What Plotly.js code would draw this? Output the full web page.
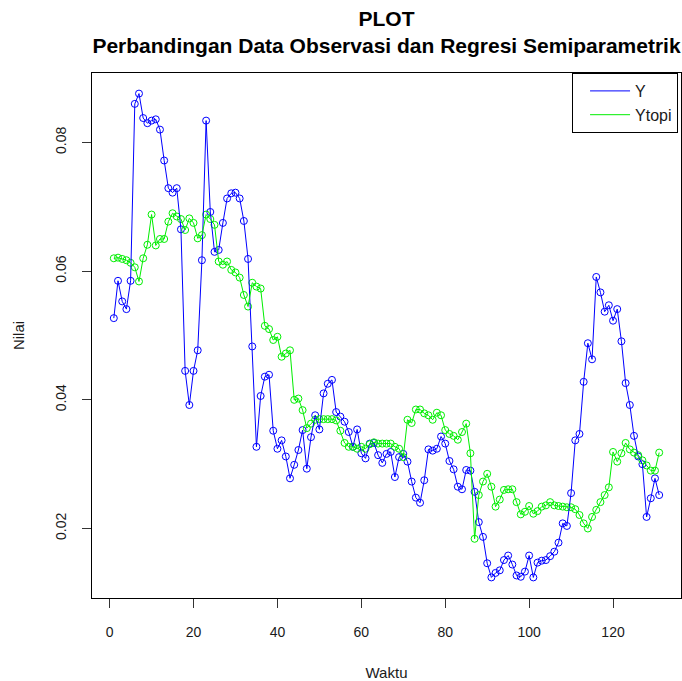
<!DOCTYPE html>
<html>
<head>
<meta charset="utf-8">
<script src="https://cdn.plot.ly/plotly-3.0.1.min.js"></script>
<style>html,body{margin:0;padding:0;background:#fff;}#chart{width:682px;height:681px;}</style>
</head>
<body>
<div id="chart"></div>
<script>
var waktu = [];
for (var i = 1; i <= 131; i++) waktu.push(i);

var Y = [
0.0527,0.0585,0.0553,0.0541,0.0585,0.0860,0.0876,0.0838,0.0830,0.0834,
0.0836,0.0820,0.0772,0.0729,0.0722,0.0729,0.0665,0.0445,0.0392,0.0445,
0.0477,0.0617,0.0834,0.0692,0.0630,0.0633,0.0675,0.0713,0.0721,0.0722,
0.0713,0.0678,0.0619,0.0483,0.0327,0.0406,0.0436,0.0439,0.0352,0.0324,
0.0337,0.0312,0.0278,0.0299,0.0322,0.0353,0.0293,0.0342,0.0376,0.0354,
0.0410,0.0425,0.0431,0.0381,0.0374,0.0366,0.0350,0.0327,0.0354,0.0317,
0.0309,0.0332,0.0333,0.0314,0.0302,0.0316,0.0319,0.0280,0.0311,0.0316,
0.0304,0.0273,0.0248,0.0240,0.0275,0.0323,0.0321,0.0324,0.0343,0.0332,
0.0305,0.0292,0.0265,0.0261,0.0291,0.0290,0.0257,0.0210,0.0187,0.0146,
0.0124,0.0131,0.0135,0.0151,0.0158,0.0144,0.0127,0.0125,0.0133,0.0158,
0.0124,0.0147,0.0150,0.0151,0.0157,0.0164,0.0178,0.0208,0.0204,0.0255,
0.0337,0.0347,0.0428,0.0488,0.0463,0.0591,0.0567,0.0537,0.0547,0.0523,
0.0541,0.0491,0.0426,0.0392,0.0344,0.0312,0.0300,0.0218,0.0247,0.0278,
0.0252
];

var Ytopi = [
0.0620,0.0621,0.0619,0.0617,0.0613,0.0606,0.0584,0.0620,0.0641,0.0688,
0.0640,0.0650,0.0650,0.0677,0.0690,0.0685,0.0681,0.0664,0.0682,0.0675,
0.0651,0.0656,0.0688,0.0681,0.0672,0.0615,0.0610,0.0615,0.0602,0.0598,
0.0590,0.0563,0.0545,0.0582,0.0576,0.0573,0.0515,0.0510,0.0493,0.0498,
0.0467,0.0472,0.0477,0.0400,0.0402,0.0384,0.0356,0.0363,0.0369,0.0370,
0.0370,0.0370,0.0370,0.0368,0.0352,0.0333,0.0327,0.0327,0.0324,0.0327,
0.0324,0.0331,0.0334,0.0332,0.0332,0.0332,0.0332,0.0327,0.0324,0.0311,
0.0369,0.0364,0.0385,0.0385,0.0379,0.0376,0.0369,0.0380,0.0376,0.0353,
0.0347,0.0344,0.0338,0.0350,0.0363,0.0317,0.0184,0.0252,0.0273,0.0285,
0.0265,0.0234,0.0245,0.0260,0.0261,0.0261,0.0241,0.0222,0.0226,0.0235,
0.0223,0.0227,0.0234,0.0236,0.0241,0.0236,0.0235,0.0234,0.0233,0.0233,
0.0230,0.0221,0.0208,0.0200,0.0218,0.0229,0.0241,0.0252,0.0264,0.0319,
0.0304,0.0317,0.0333,0.0323,0.0318,0.0314,0.0306,0.0298,0.0290,0.0290,
0.0318
];

var seriesNames = ["Y", "Ytopi"];
var seriesColors = ["#0000ff", "#00ee00"];
var xTicks = [0, 20, 40, 60, 80, 100, 120];
var yTicks = [0.02, 0.04, 0.06, 0.08];
var yTickText = ["0.02", "0.04", "0.06", "0.08"];

var fontFam = "Liberation Sans, Arial, sans-serif";
var data = [Y, Ytopi];
var traces = [];
for (var s = 0; s < 2; s++) {
  traces.push({
    x: waktu, y: data[s], type: "scatter", mode: "markers",
    marker: {symbol: "circle-open", size: 7, color: seriesColors[s], line: {width: 1, color: seriesColors[s]}},
    showlegend: false, hoverinfo: "skip"
  });
}
for (var s = 0; s < 2; s++) {
  traces.push({
    x: waktu, y: data[s], type: "scatter", mode: "lines", name: seriesNames[s],
    line: {color: seriesColors[s], width: 1}
  });
}

var layout = {
  width: 682, height: 681,
  margin: {l: 92, r: 1, t: 73, b: 83, pad: 0},
  paper_bgcolor: "#fff", plot_bgcolor: "#fff",
  font: {family: fontFam, color: "#1a1a1a", size: 14},
  title: {
    text: "<b>PLOT</b><br><b>Perbandingan Data Observasi dan Regresi Semiparametrik</b>",
    font: {family: fontFam, size: 21, color: "#000"},
    x: 0.5, xref: "paper", xanchor: "center", y: 0.962, yanchor: "top"
  },
  xaxis: {
    range: [-4.2, 136.2], showgrid: false, zeroline: false,
    showline: true, mirror: true, linecolor: "#000", linewidth: 1,
    ticks: "outside", ticklen: 9, tickcolor: "#333", tickwidth: 1,
    tickvals: xTicks, tickfont: {size: 14, family: fontFam},
    ticklabelstandoff: 12,
    title: {text: "Waktu", font: {size: 15, family: fontFam}, standoff: 29}
  },
  yaxis: {
    range: [0.0092, 0.0908], showgrid: false, zeroline: false,
    showline: true, mirror: true, linecolor: "#000", linewidth: 1,
    ticks: "outside", ticklen: 9, tickcolor: "#333", tickwidth: 1,
    tickvals: yTicks, ticktext: yTickText, tickangle: -90,
    tickfont: {size: 14, family: fontFam},
    ticklabelstandoff: 10,
    title: {text: "Nilai", font: {size: 15, family: fontFam}, standoff: 25}
  },
  legend: {
    x: 0.995, xanchor: "right", y: 1, yanchor: "top",
    bordercolor: "#000", borderwidth: 1, bgcolor: "#fff",
    font: {size: 16, family: fontFam}, tracegroupgap: 0,
    itemwidth: 40, indentation: 12
  }
};

Plotly.newPlot("chart", traces, layout, {displayModeBar: false, staticPlot: true});
</script>
</body>
</html>
